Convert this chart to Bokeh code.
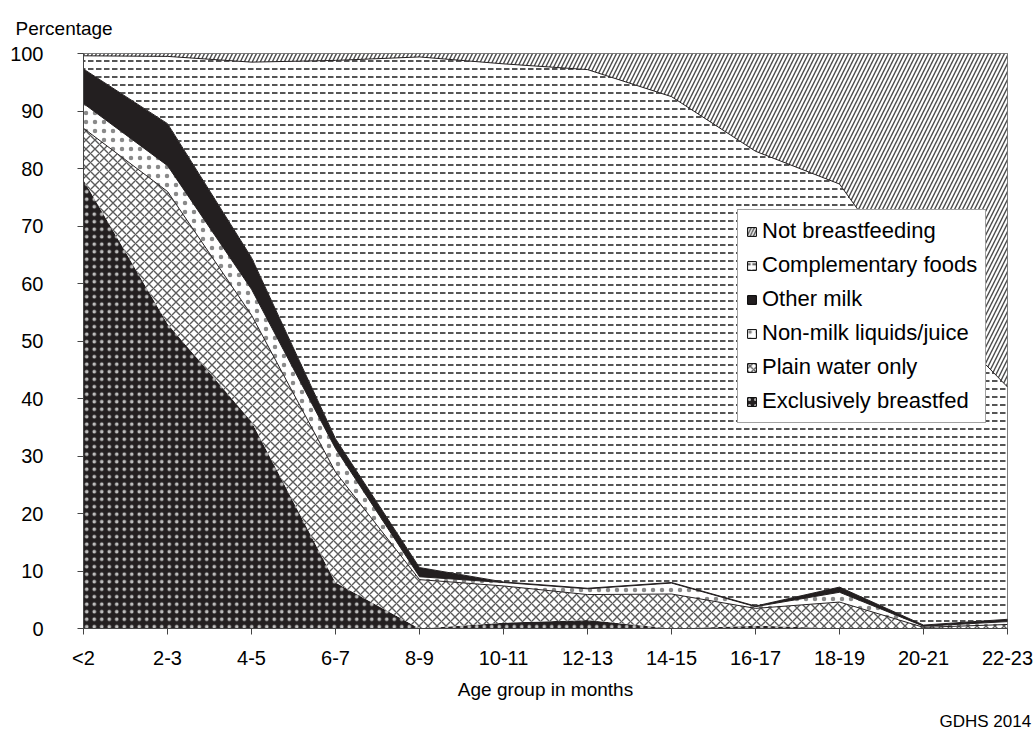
from bokeh.plotting import figure
from bokeh.models import (ColumnDataSource, FixedTicker, Range1d, Title, Legend,
                          LegendItem)
from bokeh.transform import stack
from bokeh.embed import file_html
from bokeh.resources import INLINE

# ---- data (percent of children, by age group) ----
age_groups = ["<2", "2-3", "4-5", "6-7", "8-9", "10-11", "12-13",
              "14-15", "16-17", "18-19", "20-21", "22-23"]
exclusively_breastfed = [78.0, 53.0, 36.0, 8.0, 0.0, 1.0, 1.5, 0.0, 0.5, 0.0, 0.0, 0.0]
plain_water_only      = [9.0, 23.0, 18.5, 19.2, 8.5, 6.4, 4.4, 6.0, 3.0, 4.6, 0.2, 0.7]
non_milk_liquids      = [4.3, 4.5, 4.5, 4.1, 0.5, 0.6, 1.0, 1.9, 0.3, 1.7, 0.2, 0.5]
other_milk            = [6.0, 7.3, 5.5, 1.7, 1.6, 0.1, 0.1, 0.1, 0.1, 0.9, 0.2, 0.4]
complementary_foods   = [2.3, 11.7, 34.0, 65.8, 88.8, 90.1, 90.2, 84.5, 79.1, 70.1, 56.4, 40.4]
not_breastfeeding     = [0.4, 0.5, 1.5, 1.2, 0.6, 1.8, 2.8, 7.5, 17.0, 22.7, 43.0, 58.0]
y_ticks = [0, 10, 20, 30, 40, 50, 60, 70, 80, 90, 100]

series_keys = ["ebf", "water", "nonmilk", "othermilk", "comp", "notbf"]
series_labels = ["Exclusively breastfed", "Plain water only", "Non-milk liquids/juice",
                 "Other milk", "Complementary foods", "Not breastfeeding"]

x_pos = list(range(len(age_groups)))
source = ColumnDataSource(dict(
    x=x_pos,
    ebf=exclusively_breastfed,
    water=plain_water_only,
    nonmilk=non_milk_liquids,
    othermilk=other_milk,
    comp=complementary_foods,
    notbf=not_breastfeeding,
))

FONT = "Liberation Sans"
DARK = "#231f20"

fills = [DARK, "white", "white", DARK, "white", "white"]
patterns = ["dot", "diagonal_cross", "dot", "blank", "horizontal_dash", "right_diagonal_line"]
hcolors = ["#bdbdbd", "#5a5a5a", "#8a8a8a", DARK, "#555555", "#4a4a4a"]
hscales = [7.5, 9, 9, 12, 8, 8]
hweights = [1, 1.4, 1, 1, 2, 1.4]

p = figure(width=1036, height=738, output_backend="svg", toolbar_location=None,
           x_range=Range1d(0, len(age_groups) - 1), y_range=Range1d(0, 100),
           min_border_left=83, min_border_right=29, min_border_top=53,
           min_border_bottom=110)

p.varea_stack(
    stackers=series_keys, x="x", source=source,
    fill_color=fills, hatch_pattern=patterns, hatch_color=hcolors,
    hatch_scale=hscales, hatch_weight=hweights,
)

# boundary lines between layers
for i in range(2, len(series_keys)):
    p.line(x="x", y=stack(*series_keys[:i]), source=source,
           line_color=DARK, line_width=1)

# legend swatches (outlined squares, not drawn in the plot area)
swatch_src = ColumnDataSource(dict(x=[float("nan")], y=[float("nan")]))
items = []
for k in range(len(series_keys)):
    r = p.rect(x="x", y="y", width=1, height=1, source=swatch_src,
               fill_color=fills[k], hatch_pattern=patterns[k],
               hatch_color=hcolors[k], hatch_scale=hscales[k] * 0.8,
               hatch_weight=hweights[k], line_color="black", line_width=1)
    items.append(LegendItem(label=series_labels[k], renderers=[r]))
legend = Legend(items=list(reversed(items)), location=(654, 205))
legend.label_text_font = FONT
legend.label_text_font_size = "22px"
legend.label_text_color = "black"
legend.glyph_width = 11
legend.glyph_height = 11
legend.label_height = 26
legend.label_standoff = 5
legend.spacing = 8
legend.padding = 8
legend.margin = 0
legend.border_line_color = "#444444"
legend.border_line_width = 1
legend.background_fill_color = "white"
legend.background_fill_alpha = 1.0
p.add_layout(legend)

# axes
p.xgrid.visible = False
p.ygrid.visible = False
p.outline_line_color = "#555555"
p.outline_line_width = 1

p.yaxis.ticker = FixedTicker(ticks=y_ticks)
p.yaxis.major_label_text_font = FONT
p.yaxis.major_label_text_font_size = "20px"
p.yaxis.major_label_text_color = "black"
p.yaxis.major_label_standoff = 34
p.yaxis.major_tick_out = 6
p.yaxis.major_tick_in = 0
p.yaxis.minor_tick_out = 0
p.yaxis.minor_tick_in = 0
p.yaxis.axis_line_color = "#444444"
p.yaxis.major_tick_line_color = "#444444"

p.xaxis.ticker = FixedTicker(ticks=x_pos)
p.xaxis.major_label_overrides = {i: lab for i, lab in enumerate(age_groups)}
p.xaxis.major_label_text_font = FONT
p.xaxis.major_label_text_font_size = "20px"
p.xaxis.major_label_text_color = "black"
p.xaxis.major_label_standoff = 12
p.xaxis.major_tick_out = 6
p.xaxis.major_tick_in = 0
p.xaxis.minor_tick_out = 0
p.xaxis.minor_tick_in = 0
p.xaxis.axis_line_color = "#444444"
p.xaxis.major_tick_line_color = "#444444"
p.xaxis.axis_label = "Age group in months"
p.xaxis.axis_label_text_font = FONT
p.xaxis.axis_label_text_font_size = "19px"
p.xaxis.axis_label_text_font_style = "normal"
p.xaxis.axis_label_text_color = "black"
p.xaxis.axis_label_standoff = 7

# texts
p.add_layout(Title(text="Percentage", align="left", offset=-68, standoff=30,
                   text_font=FONT, text_font_size="19px", text_font_style="normal",
                   text_color="black"), "above")
p.add_layout(Title(text="GDHS 2014", align="left", offset=856, standoff=15,
                   text_font=FONT, text_font_size="17px", text_font_style="normal",
                   text_color="black"), "below")

open("out.html", "w").write(file_html(p, INLINE))
